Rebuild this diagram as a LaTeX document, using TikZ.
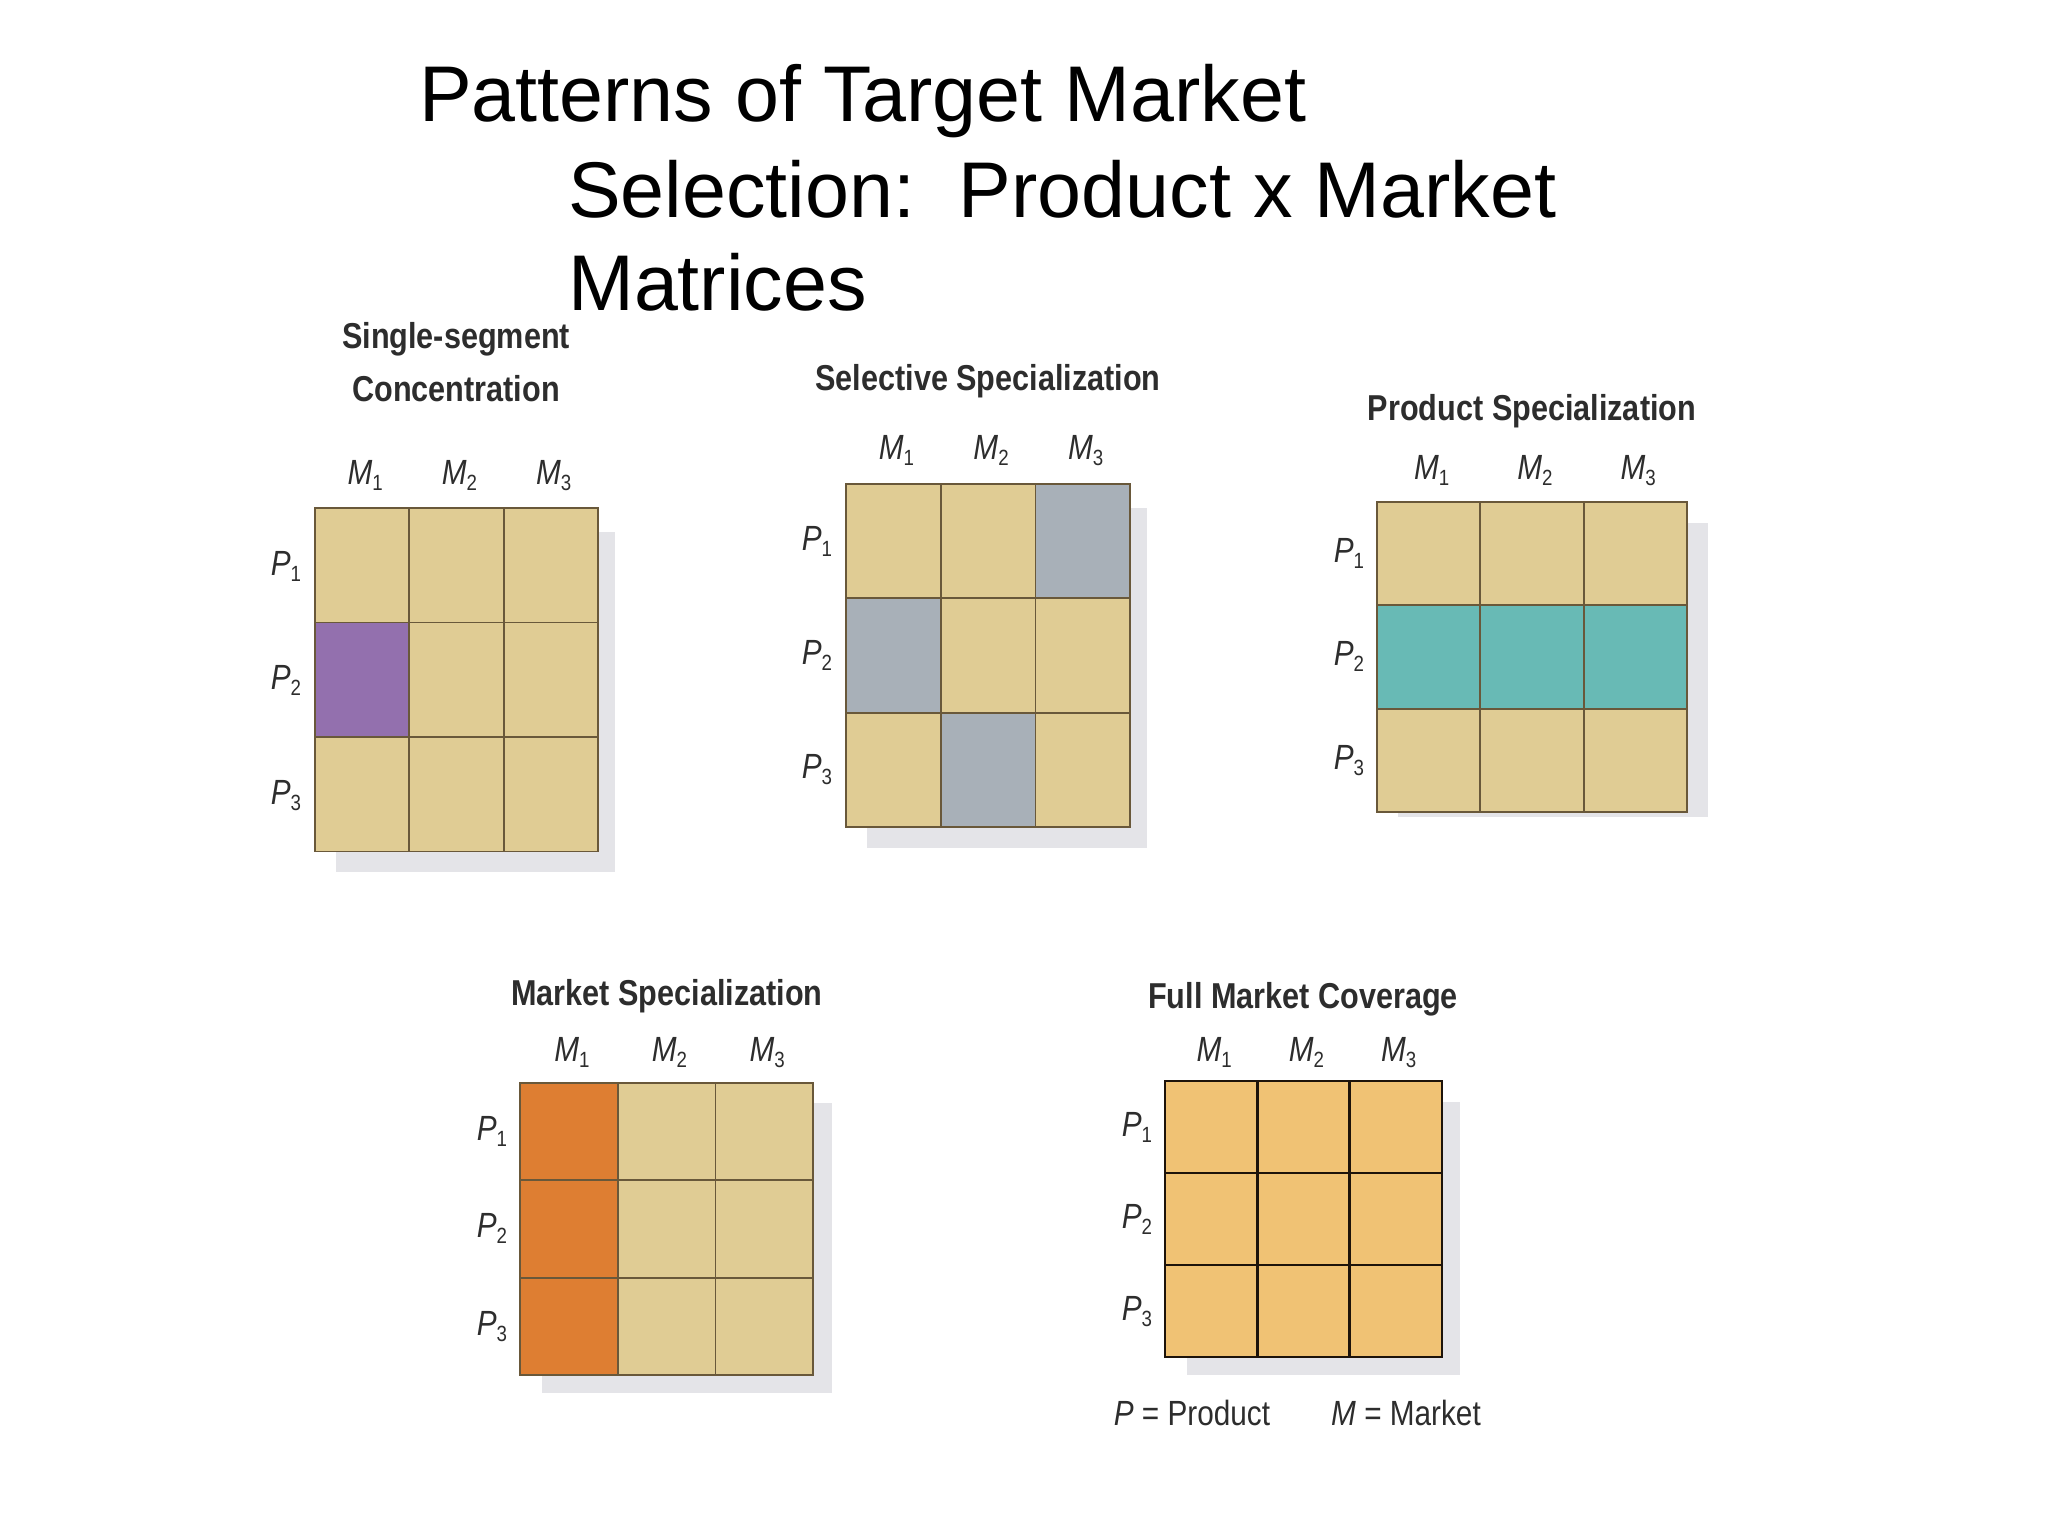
\documentclass[tikz,border=0pt]{standalone}
\usepackage{fontspec}
\setmainfont{Liberation Sans}
\newfontfamily\condfont[FakeStretch=0.85]{Liberation Sans}

\definecolor{cellTan}{RGB}{224,204,148}
\definecolor{gridLine}{RGB}{105,88,58}
\definecolor{segPurple}{RGB}{147,112,174}
\definecolor{selGrey}{RGB}{168,176,184}
\definecolor{prodTeal}{RGB}{104,186,181}
\definecolor{mktOrange}{RGB}{222,126,50}
\definecolor{fullGold}{RGB}{240,194,116}
\definecolor{shadeGrey}{RGB}{228,228,232}
\definecolor{labText}{RGB}{45,45,45}

\newcommand{\idx}[2]{\textit{#1}\raisebox{-6pt}{\fontsize{22}{22}\selectfont#2}}

\begin{document}
\begin{tikzpicture}
        [x=1pt,y=-1pt,every node/.style={inner sep=0pt,outer sep=0pt},
         cell/.style={draw=gridLine,line width=1.8pt,fill=cellTan},
         lab/.style={font=\condfont\fontsize{35}{35}\selectfont,text=labText,anchor=base},
         head/.style={font=\condfont\bfseries\fontsize{36}{53}\selectfont,text=labText,align=center,anchor=base},
         shade/.style={fill=shadeGrey}]
        \fill[white] (0,0) rectangle (2048,1536);
        \useasboundingbox (0,0) rectangle (2048,1536);

        % main title
        \begin{scope}[every node/.style={inner sep=0pt,anchor=base west,font=\fontsize{79}{95}\selectfont}]
        \node (title1) at (419,122) {Patterns of Target Market};
        \node (title2) at (568,217) {Selection:\ \ Product x Market};
        \node (title3) at (568,310) {Matrices};
        \end{scope}

        % single-segment concentration
        \begin{scope}[shift={(315,508)}]
        \fill[shade] (21,24) rectangle (300,364);
        \foreach \r/\c/\col in {1/1/cellTan,1/2/cellTan,1/3/cellTan,2/1/segPurple,2/2/cellTan,2/3/cellTan,3/1/cellTan,3/2/cellTan,3/3/cellTan}
            \node[cell,fill=\col,minimum width=94.3pt,minimum height=114.5pt] (s\r\c) at ({(\c-0.5)*94.3},{(\r-0.5)*114.5}) {};
        \foreach \i in {1,2,3} {
            \node[lab] (sm\i) at ({(\i-0.5)*94.3+3},-24) {\idx{M}{\i}};
            \node[lab] (sp\i) at (-29,{(\i-0.5)*114.5+10}) {\idx{P}{\i}};
        }
        \node[head] (stitle) at (141,-107) {Single-segment\\Concentration};
        \end{scope}

        % selective specialization
        \begin{scope}[shift={(846,484)}]
        \fill[shade] (21,24) rectangle (301,364);
        \foreach \r/\c/\col in {1/1/cellTan,1/2/cellTan,1/3/selGrey,2/1/selGrey,2/2/cellTan,2/3/cellTan,3/1/cellTan,3/2/selGrey,3/3/cellTan}
            \node[cell,fill=\col,minimum width=94.7pt,minimum height=114.3pt] (e\r\c) at ({(\c-0.5)*94.7},{(\r-0.5)*114.3}) {};
        \foreach \i in {1,2,3} {
            \node[lab] (em\i) at ({(\i-0.5)*94.7+3},-25) {\idx{M}{\i}};
            \node[lab] (ep\i) at (-29,{(\i-0.5)*114.3+9}) {\idx{P}{\i}};
        }
        \node[head] (etitle) at (142,-94) {Selective Specialization};
        \end{scope}

        % product specialization
        \begin{scope}[shift={(1377,502)}]
        \fill[shade] (21,21) rectangle (331,315);
        \foreach \r/\c/\col in {1/1/cellTan,1/2/cellTan,1/3/cellTan,2/1/prodTeal,2/2/prodTeal,2/3/prodTeal,3/1/cellTan,3/2/cellTan,3/3/cellTan}
            \node[cell,fill=\col,minimum width=103.3pt,minimum height=103.3pt] (d\r\c) at ({(\c-0.5)*103.3},{(\r-0.5)*103.3}) {};
        \foreach \i in {1,2,3} {
            \node[lab] (dm\i) at ({(\i-0.5)*103.3+3},-23) {\idx{M}{\i}};
            \node[lab] (dp\i) at (-28,{(\i-0.5)*103.3+9}) {\idx{P}{\i}};
        }
        \node[head] (dtitle) at (155,-82) {Product Specialization};
        \end{scope}

        % market specialization
        \begin{scope}[shift={(520,1083)}]
        \fill[shade] (22,20) rectangle (312,310);
        \foreach \r/\c/\col in {1/1/mktOrange,1/2/cellTan,1/3/cellTan,2/1/mktOrange,2/2/cellTan,2/3/cellTan,3/1/mktOrange,3/2/cellTan,3/3/cellTan}
            \node[cell,fill=\col,minimum width=97.7pt,minimum height=97.3pt] (k\r\c) at ({(\c-0.5)*97.7},{(\r-0.5)*97.3}) {};
        \foreach \i in {1,2,3} {
            \node[lab] (km\i) at ({(\i-0.5)*97.7+3},-22) {\idx{M}{\i}};
            \node[lab] (kp\i) at (-28,{(\i-0.5)*97.3+9}) {\idx{P}{\i}};
        }
        \node[head] (ktitle) at (147,-78) {Market Specialization};
        \end{scope}

        % full market coverage
        \begin{scope}[shift={(1165,1081)}]
        \fill[shade] (22,21) rectangle (295,294);
        \foreach \r in {1,2,3}
            \foreach \c in {1,2,3}
                \node[cell,draw=black!85!brown,line width=2.6pt,fill=fullGold,minimum width=92.3pt,minimum height=92pt] (f\r\c) at ({(\c-0.5)*92.3},{(\r-0.5)*92}) {};
        \foreach \i in {1,2,3} {
            \node[lab] (fm\i) at ({(\i-0.5)*92.3+3},-20) {\idx{M}{\i}};
            \node[lab] (fp\i) at (-28,{(\i-0.5)*92+9}) {\idx{P}{\i}};
        }
        \node[head] (ftitle) at (138,-73) {Full Market Coverage};
        \node[lab,font=\condfont\fontsize{35}{35}\selectfont] (pkey) at (27,344) {\textit{P} = Product};
        \node[lab,font=\condfont\fontsize{35}{35}\selectfont] (mkey) at (241,344) {\textit{M} = Market};
        \end{scope}
    \end{tikzpicture}
\end{document}
